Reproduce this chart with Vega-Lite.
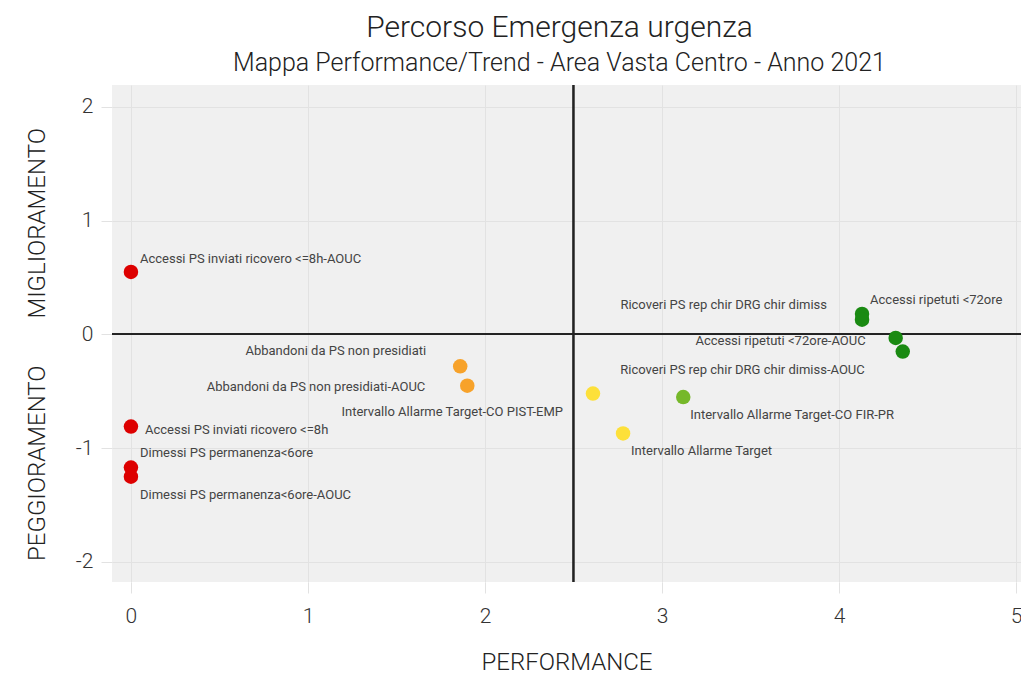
{
  "$schema": "https://vega.github.io/schema/vega-lite/v6.json",
  "width": 909,
  "height": 497,
  "autosize": "none",
  "padding": {"left": 112, "top": 85, "right": 0, "bottom": 93},
  "background": "white",
  "title": {
    "text": "Percorso Emergenza urgenza",
    "subtitle": "Mappa Performance/Trend - Area Vasta Centro - Anno 2021",
    "anchor": "middle",
    "dx": -7,
    "font": "Roboto",
    "fontWeight": 300,
    "fontSize": 30,
    "color": "#222",
    "subtitleFont": "Roboto",
    "subtitleFontWeight": 300,
    "subtitleFontSize": 25,
    "subtitleColor": "#222",
    "subtitlePadding": 8,
    "offset": 8
  },
  "config": {
    "view": {"fill": "#f0f0f0", "stroke": null},
    "axis": {
      "gridColor": "#e2e2e2",
      "gridWidth": 1,
      "tickColor": "#e2e2e2",
      "tickSize": 11,
      "domain": false,
      "labelFont": "Roboto",
      "labelFontWeight": 300,
      "labelFontSize": 21,
      "labelColor": "#333",
      "titleFont": "Roboto",
      "titleFontWeight": 300,
      "titleFontSize": 24,
      "titleColor": "#222"
    }
  },
  "data": {
    "values": [
      {"indicatore": "Accessi PS inviati ricovero <=8h-AOUC", "performance": 0, "trend": 0.55, "classe": "1"},
      {"indicatore": "Accessi PS inviati ricovero <=8h", "performance": 0, "trend": -0.81, "classe": "1"},
      {"indicatore": "Dimessi PS permanenza<6ore", "performance": 0, "trend": -1.17, "classe": "1"},
      {"indicatore": "Dimessi PS permanenza<6ore-AOUC", "performance": 0, "trend": -1.25, "classe": "1"},
      {"indicatore": "Abbandoni  da PS non presidiati", "performance": 1.86, "trend": -0.28, "classe": "2"},
      {"indicatore": "Abbandoni  da PS non presidiati-AOUC", "performance": 1.9, "trend": -0.45, "classe": "2"},
      {"indicatore": "Intervallo Allarme Target-CO PIST-EMP", "performance": 2.61, "trend": -0.52, "classe": "3"},
      {"indicatore": "Intervallo Allarme Target", "performance": 2.78, "trend": -0.87, "classe": "3"},
      {"indicatore": "Intervallo Allarme Target-CO FIR-PR", "performance": 3.12, "trend": -0.55, "classe": "4"},
      {"indicatore": "Accessi ripetuti <72ore", "performance": 4.13, "trend": 0.18, "classe": "5"},
      {"indicatore": "Ricoveri PS rep chir DRG chir dimiss", "performance": 4.13, "trend": 0.13, "classe": "5"},
      {"indicatore": "Accessi ripetuti <72ore-AOUC", "performance": 4.32, "trend": -0.03, "classe": "5"},
      {"indicatore": "Ricoveri PS rep chir DRG chir dimiss-AOUC", "performance": 4.36, "trend": -0.15, "classe": "5"}
    ]
  },
  "encoding": {
    "x": {
      "field": "performance",
      "type": "quantitative",
      "scale": {"domain": [-0.107, 5.028], "nice": false, "zero": false},
      "axis": {"values": [0, 1, 2, 3, 4, 5], "title": "PERFORMANCE", "titlePadding": 24, "labelPadding": 12}
    },
    "y": {
      "field": "trend",
      "type": "quantitative",
      "scale": {"domain": [-2.176, 2.193], "nice": false, "zero": false},
      "axis": {
        "values": [-2, -1, 0, 1, 2],
        "labelExpr": "datum.value < 0 ? '-' + abs(datum.value) : '' + datum.value",
        "title": "PEGGIORAMENTO\u00a0\u00a0\u00a0\u00a0\u00a0\u00a0\u00a0\u00a0MIGLIORAMENTO",
        "titlePadding": 26,
        "labelPadding": 8,
        "titleY": 259
      }
    }
  },
  "layer": [
    {"mark": {"type": "rule", "color": "#222", "strokeWidth": 1.2}, "encoding": {"x": {"datum": 2.5}, "y": null}},
    {"mark": {"type": "rule", "color": "#222", "strokeWidth": 1.2}, "encoding": {"y": {"datum": 0}, "x": null}},
    {
      "mark": {"type": "circle", "size": 210, "opacity": 1},
      "encoding": {
        "color": {
          "field": "classe",
          "type": "nominal",
          "scale": {"domain": ["1", "2", "3", "4", "5"], "range": ["#dd0000", "#f7a22a", "#fde03a", "#76b82a", "#1a8a12"]},
          "legend": null
        }
      }
    },
    {"transform": [{"filter": "datum.indicatore == 'Accessi PS inviati ricovero <=8h-AOUC'"}], "mark": {"type": "text", "align": "left", "dx": 9, "dy": -13, "font": "Roboto", "fontSize": 13, "color": "#444"}, "encoding": {"text": {"field": "indicatore"}}},
    {"transform": [{"filter": "datum.indicatore == 'Accessi PS inviati ricovero <=8h'"}], "mark": {"type": "text", "align": "left", "dx": 14, "dy": 3, "font": "Roboto", "fontSize": 13, "color": "#444"}, "encoding": {"text": {"field": "indicatore"}}},
    {"transform": [{"filter": "datum.indicatore == 'Dimessi PS permanenza<6ore'"}], "mark": {"type": "text", "align": "left", "dx": 9, "dy": -15, "font": "Roboto", "fontSize": 13, "color": "#444"}, "encoding": {"text": {"field": "indicatore"}}},
    {"transform": [{"filter": "datum.indicatore == 'Dimessi PS permanenza<6ore-AOUC'"}], "mark": {"type": "text", "align": "left", "dx": 9, "dy": 18, "font": "Roboto", "fontSize": 13, "color": "#444"}, "encoding": {"text": {"field": "indicatore"}}},
    {"transform": [{"filter": "datum.indicatore == 'Abbandoni  da PS non presidiati'"}], "mark": {"type": "text", "align": "right", "dx": -34, "dy": -15, "font": "Roboto", "fontSize": 13, "color": "#444"}, "encoding": {"text": {"field": "indicatore"}}},
    {"transform": [{"filter": "datum.indicatore == 'Abbandoni  da PS non presidiati-AOUC'"}], "mark": {"type": "text", "align": "right", "dx": -42, "dy": 1, "font": "Roboto", "fontSize": 13, "color": "#444"}, "encoding": {"text": {"field": "indicatore"}}},
    {"transform": [{"filter": "datum.indicatore == 'Intervallo Allarme Target-CO PIST-EMP'"}], "mark": {"type": "text", "align": "right", "dx": -30, "dy": 18, "font": "Roboto", "fontSize": 13, "color": "#444"}, "encoding": {"text": {"field": "indicatore"}}},
    {"transform": [{"filter": "datum.indicatore == 'Intervallo Allarme Target'"}], "mark": {"type": "text", "align": "left", "dx": 8, "dy": 18, "font": "Roboto", "fontSize": 13, "color": "#444"}, "encoding": {"text": {"field": "indicatore"}}},
    {"transform": [{"filter": "datum.indicatore == 'Intervallo Allarme Target-CO FIR-PR'"}], "mark": {"type": "text", "align": "left", "dx": 7, "dy": 18, "font": "Roboto", "fontSize": 13, "color": "#444"}, "encoding": {"text": {"field": "indicatore"}}},
    {"transform": [{"filter": "datum.indicatore == 'Accessi ripetuti <72ore'"}], "mark": {"type": "text", "align": "left", "dx": 8, "dy": -14, "font": "Roboto", "fontSize": 13, "color": "#444"}, "encoding": {"text": {"field": "indicatore"}}},
    {"transform": [{"filter": "datum.indicatore == 'Ricoveri PS rep chir DRG chir dimiss'"}], "mark": {"type": "text", "align": "right", "dx": -35, "dy": -15, "font": "Roboto", "fontSize": 13, "color": "#444"}, "encoding": {"text": {"field": "indicatore"}}},
    {"transform": [{"filter": "datum.indicatore == 'Accessi ripetuti <72ore-AOUC'"}], "mark": {"type": "text", "align": "right", "dx": -30, "dy": 3, "font": "Roboto", "fontSize": 13, "color": "#444"}, "encoding": {"text": {"field": "indicatore"}}},
    {"transform": [{"filter": "datum.indicatore == 'Ricoveri PS rep chir DRG chir dimiss-AOUC'"}], "mark": {"type": "text", "align": "right", "dx": -38, "dy": 18, "font": "Roboto", "fontSize": 13, "color": "#444"}, "encoding": {"text": {"field": "indicatore"}}}
  ]
}
